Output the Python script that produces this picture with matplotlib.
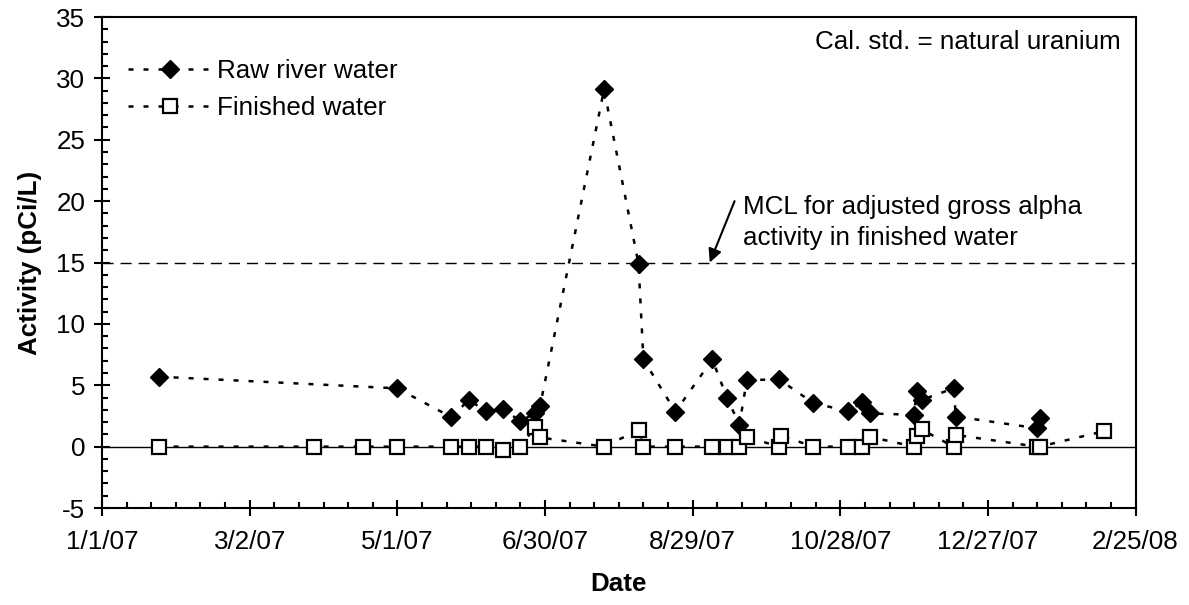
import pandas as pd
import matplotlib
matplotlib.use("Agg")
import matplotlib.pyplot as plt
import matplotlib.dates as mdates
from matplotlib.ticker import FixedLocator, FuncFormatter, MultipleLocator

plt.rcParams["font.family"] = ["Liberation Sans", "DejaVu Sans"]
plt.rcParams["axes.unicode_minus"] = False

# sample dates and activities (pCi/L)
raw_dates = [
    "2007-01-24", "2007-05-01", "2007-05-23", "2007-05-30", "2007-06-06",
    "2007-06-13", "2007-06-20", "2007-06-26", "2007-06-28", "2007-07-24",
    "2007-08-07", "2007-08-09", "2007-08-22", "2007-09-06", "2007-09-12",
    "2007-09-17", "2007-09-20", "2007-10-03", "2007-10-17", "2007-10-31",
    "2007-11-06", "2007-11-09", "2007-11-27", "2007-11-28", "2007-11-30",
    "2007-12-13", "2007-12-14", "2008-01-16", "2008-01-17",
]
raw_values = [
    5.7, 4.75, 2.4, 3.8, 2.9,
    3.1, 2.05, 2.75, 3.3, 29.1,
    14.9, 7.1, 2.85, 7.1, 3.95,
    1.8, 5.4, 5.5, 3.55, 2.9,
    3.6, 2.7, 2.6, 4.5, 3.8,
    4.75, 2.45, 1.5, 2.3,
]

fin_dates = [
    "2007-01-24", "2007-03-28", "2007-04-17", "2007-05-01", "2007-05-23",
    "2007-05-30", "2007-06-06", "2007-06-13", "2007-06-20", "2007-06-26",
    "2007-06-28", "2007-07-24", "2007-08-07", "2007-08-09", "2007-08-22",
    "2007-09-06", "2007-09-12", "2007-09-17", "2007-09-20", "2007-10-03",
    "2007-10-04", "2007-10-17", "2007-10-31", "2007-11-06", "2007-11-09",
    "2007-11-27", "2007-11-28", "2007-11-30", "2007-12-13", "2007-12-14",
    "2008-01-16", "2008-01-17", "2008-02-12",
]
fin_values = [
    0.0, 0.0, 0.0, 0.0, 0.0,
    0.0, 0.0, -0.25, 0.0, 1.6,
    0.75, 0.0, 1.35, 0.0, 0.0,
    0.0, 0.0, 0.0, 0.8, 0.0,
    0.9, 0.0, 0.0, 0.0, 0.8,
    0.0, 0.9, 1.4, 0.0, 0.95,
    0.0, 0.0, 1.25,
]

MCL = 15
X_START = "2007-01-01"
X_END = "2008-02-25"
FS = 18.7


def fmt_data(x, pos=None):
    d = mdates.num2date(x)
    return f"{d.month}/{d.day}/{d:%y}"


def main():
    raw_x = pd.to_datetime(raw_dates)
    fin_x = pd.to_datetime(fin_dates)

    fig = plt.figure(figsize=(11.89, 6.05), dpi=100)
    ax = fig.add_axes([0.0858, 0.1603, 0.8693, 0.8116])

    ax.axhline(0, color="black", lw=1.0, zorder=1)
    ax.axhline(MCL, color="black", lw=1.0, dashes=(8, 5), zorder=1)

    ax.plot(raw_x, raw_values, color="black", lw=1.8, dashes=(2, 4),
            marker="D", ms=9.5, mfc="black", mec="black",
            label="Raw river water", zorder=3)
    ax.plot(fin_x, fin_values, color="black", lw=1.8, dashes=(2, 4),
            marker="s", ms=9.5, mfc="white", mec="black", mew=1.6,
            label="Finished water", zorder=4)

    # eixos
    x0 = mdates.date2num(pd.Timestamp(X_START))
    x1 = mdates.date2num(pd.Timestamp(X_END))
    ax.set_xlim(x0, x1)
    ax.set_ylim(-5, 35)
    ax.xaxis.set_major_locator(FixedLocator([x0 + 60 * i for i in range(8)]))
    ax.xaxis.set_minor_locator(FixedLocator([x0 + 10 * i for i in range(43)]))
    ax.xaxis.set_major_formatter(FuncFormatter(fmt_data))
    ax.yaxis.set_major_locator(MultipleLocator(5))
    ax.yaxis.set_minor_locator(MultipleLocator(1))

    ax.tick_params(which="major", direction="inout", length=12, width=1.5,
                   labelsize=FS)
    ax.tick_params(axis="x", which="major", pad=10)
    ax.tick_params(axis="y", which="major", pad=6)
    ax.tick_params(which="minor", direction="in", length=4, width=1.5)
    for s in ax.spines.values():
        s.set_linewidth(1.5)

    ax.set_xlabel("Date", fontsize=FS, fontweight="bold", labelpad=13)
    ax.set_ylabel("Activity (pCi/L)", fontsize=FS, fontweight="bold", labelpad=10)

    ax.legend(loc="upper left", bbox_to_anchor=(0.025, 0.915), frameon=False,
              fontsize=FS, handlelength=3.27, handletextpad=0.15,
              labelspacing=0.5, borderpad=0, borderaxespad=0)

    ax.text(0.986, 0.95, "Cal. std. = natural uranium", transform=ax.transAxes,
            ha="right", va="center", fontsize=FS)
    ax.text(0.6205, 0.582, "MCL for adjusted gross alpha\nactivity in finished water",
            transform=ax.transAxes, ha="left", va="center", fontsize=FS,
            linespacing=1.35)
    ax.annotate("", xy=(0.588, 0.5), xytext=(0.612, 0.625),
                xycoords="axes fraction", textcoords="axes fraction",
                arrowprops=dict(arrowstyle="-|>", color="black", lw=1.5,
                                mutation_scale=20, shrinkA=0, shrinkB=0))

    fig.savefig("out.png", dpi=100)
    plt.close(fig)


if __name__ == "__main__":
    main()
